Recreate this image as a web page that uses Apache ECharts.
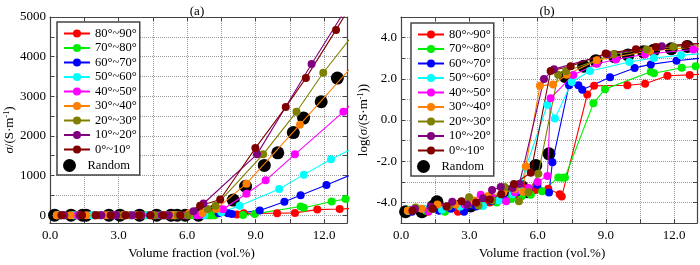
<!DOCTYPE html>
<html>
<head>
<meta charset="utf-8">
<script src="https://cdn.jsdelivr.net/npm/echarts@6/dist/echarts.min.js"></script>
<style>
html, body { margin: 0; padding: 0; background: #fff; }
#chart { width: 700px; height: 265px; }
</style>
</head>
<body>
<div id="chart"></div>
<script>
// series names / colours
const names = ['80°~90°', '70°~80°', '60°~70°', '50°~60°', '40°~50°', '30°~40°', '20°~30°', '10°~20°', '0°~10°'];
const colors = ['#ff0000', '#00ee00', '#0000ff', '#00ffff', '#ff00ff', '#ff8000', '#808000', '#800080', '#800000'];

// volume fraction (vol.%), log(sigma) for panel (b), sigma (S/m) for panel (a)
const x_80_90 = [0.3, 1.2, 1.9, 2.5, 3.2, 3.9, 4.5, 5.0, 5.33, 5.9, 6.47, 6.97, 7.06, 8.18, 8.48, 9.94, 10.72, 11.7, 12.68, 13.6];
const log_80_90 = [-4.4, -4.45, -4.3, -4.45, -4.1, -4.0, -3.85, -3.6, -3.25, -3.4, -3.33, -3.6, -3.71, 1.24, 1.66, 1.69, 1.76, 2.15, 2.19, 2.25];
const sig_80_90 = [0, 0, 0, 0, 0, 0, 0, 0, 0, 0, 0, 0, 0, 17, 46, 49, 57, 141, 155, 178];

const x_70_80 = [0.4, 1.1, 1.93, 2.7, 3.5, 4.2, 4.84, 5.3, 5.7, 6.2, 6.91, 7.08, 7.2, 8.45, 8.96, 10.97, 11.11, 12.33, 12.94, 13.6];
const log_70_80 = [-4.35, -4.4, -4.45, -4.3, -4.15, -4.0, -3.83, -3.7, -3.63, -3.45, -2.79, -2.8, -2.79, 0.81, 1.5, 2.34, 2.27, 2.54, 2.61, 2.68];
const sig_70_80 = [0, 0, 0, 0, 0, 0, 0, 0, 0, 0, 0, 0, 0, 6, 32, 219, 186, 347, 407, 480];

const x_60_70 = [0.48, 1.67, 2.2, 2.77, 3.3, 3.98, 4.5, 5.1, 5.6, 5.99, 6.5, 6.65, 7.38, 7.79, 7.96, 9.18, 10.26, 10.97, 12.1, 13.6];
const log_60_70 = [-4.45, -4.4, -4.3, -4.45, -4.2, -3.94, -3.8, -3.5, -3.35, -3.14, -3.52, -2.05, 1.69, 1.69, 1.47, 2.08, 2.53, 2.70, 2.88, 3.05];
const sig_60_70 = [0, 0, 0, 0, 0, 0, 0, 0, 0, 0, 0, 0, 49, 49, 30, 120, 339, 501, 759, 1120];

const x_50_60 = [0.3, 1.0, 1.8, 2.6, 3.6, 4.3, 4.9, 5.2, 5.48, 6.43, 6.76, 7.5, 8.3, 10.03, 11.11, 12.3, 13.6];
const log_50_60 = [-4.4, -4.3, -4.35, -4.2, -4.17, -3.9, -3.6, -3.4, -2.3, 0.74, 0.07, 1.85, 2.38, 2.82, 3.01, 3.15, 3.25];
const sig_50_60 = [0, 0, 0, 0, 0, 0, 0, 0, 0, 5, 1, 71, 240, 660, 1023, 1413, 1780];

const x_40_50 = [0.5, 1.2, 2.0, 2.8, 3.5, 4.0, 4.62, 5.0, 5.6, 6.0, 6.43, 6.57, 7.57, 8.6, 9.44, 10.72, 12.84, 13.6];
const log_40_50 = [-4.35, -4.43, -4.2, -4.1, -3.63, -3.8, -3.94, -3.5, -3.3, -3.0, -2.71, 1.06, 2.19, 2.73, 2.94, 3.19, 3.42, 3.5];
const sig_40_50 = [0, 0, 0, 0, 0, 0, 0, 0, 0, 0, 0, 11, 150, 539, 880, 1534, 2608, 3050];

const x_30_40 = [0.3, 0.9, 1.6, 2.4, 3.2, 3.8, 4.5, 5.0, 5.36, 5.48, 6.1, 6.68, 7.28, 8.6, 10.94, 13.6];
const log_30_40 = [-4.4, -4.3, -4.1, -4.1, -3.9, -3.7, -3.5, -3.35, -3.48, -2.25, 1.66, 1.73, 2.2, 2.9, 3.36, 3.6];
const sig_30_40 = [0, 0, 0, 0, 0, 0, 0, 0, 0, 0, 46, 54, 158, 795, 2282, 4000];

const x_20_30 = [0.64, 1.3, 2.1, 2.99, 3.4, 4.0, 4.55, 5.18, 5.6, 6.03, 6.9, 7.25, 9.33, 10.79, 11.96, 13.6];
const log_20_30 = [-4.24, -4.3, -4.2, -3.74, -4.14, -3.9, -3.25, -3.94, -3.5, -2.61, 2.2, 2.37, 3.19, 3.42, 3.56, 3.68];
const sig_20_30 = [0, 0, 0, 0, 0, 0, 0, 0, 0, 0, 157, 236, 1534, 2608, 3594, 4800];

const x_10_20 = [0.61, 1.3, 2.25, 2.9, 3.6, 4.0, 4.38, 4.9, 5.2, 6.28, 6.72, 9.06, 11.45, 13.6];
const log_10_20 = [-4.32, -4.2, -3.97, -4.1, -3.8, -3.4, -3.25, -3.3, -3.1, 1.99, 2.47, 3.19, 3.58, 3.76];
const sig_10_20 = [0, 0, 0, 0, 0, 0, 0, 0, 0, 98, 295, 1534, 3816, 5800];

const x_0_10 = [0.5, 1.4, 2.0, 2.66, 3.3, 3.9, 4.4, 4.96, 5.7, 6.57, 7.45, 8.99, 10.32, 11.2, 12.52, 13.6];
const log_0_10 = [-4.4, -4.3, -4.2, -3.94, -4.0, -3.85, -3.6, -3.1, -2.56, 2.38, 2.61, 3.23, 3.44, 3.54, 3.67, 3.76];
const sig_0_10 = [0, 0, 0, 0, 0, 0, 0, 0, 0, 236, 396, 1692, 2728, 3458, 4675, 5700];

const x_random = [0.2, 0.92, 1.43, 1.58, 2.58, 3.06, 3.92, 4.67, 5.3, 5.57, 5.92, 6.5, 7.22, 8.02, 8.56, 9.38, 9.97, 10.65, 11.1, 11.87, 12.58];
const log_random = [-4.45, -4.45, -4.17, -3.97, -4.17, -4.17, -3.83, -3.48, -3.22, -3.48, -2.2, -1.64, 2.11, 2.61, 2.88, 3.07, 3.16, 3.31, 3.39, 3.46, 3.57];
const sig_random = [0, 0, 0, 0, 0, 0, 0, 0, 0, 0, 0, 0, 117, 380, 730, 1255, 1573, 2083, 2449, 2862, 3458];

const xs = [x_80_90, x_70_80, x_60_70, x_50_60, x_40_50, x_30_40, x_20_30, x_10_20, x_0_10];
const logs = [log_80_90, log_70_80, log_60_70, log_50_60, log_40_50, log_30_40, log_20_30, log_10_20, log_0_10];
const sigs = [sig_80_90, sig_70_80, sig_60_70, sig_50_60, sig_40_50, sig_30_40, sig_20_30, sig_10_20, sig_0_10];

const fontFamily = "'Liberation Serif', 'Times New Roman', serif";
const frameColor = '#444';

function pairs (x, y) {
  return x.map((v, i) => [v, y[i]]);
}

function xAxisFor (grid, pos, withText) {
  return {
    gridIndex: grid, type: 'value', position: pos,
    min: 0, max: 13, interval: 1.5,
    axisLine: { show: true, onZero: false, lineStyle: { color: frameColor, width: 1.2 } },
    axisTick: { show: true, inside: true, length: 4, lineStyle: { color: frameColor } },
    axisLabel: {
      show: withText, margin: 6, color: '#000', fontFamily: fontFamily, fontSize: 13,
      formatter: v => (Math.abs(v / 3 - Math.round(v / 3)) < 1e-6 && v <= 12) ? v.toFixed(1) : ''
    },
    splitLine: { show: withText, lineStyle: { type: 'dotted', color: '#999', width: 1 } },
    name: withText ? 'Volume fraction (vol.%)' : '',
    nameLocation: 'middle', nameGap: 16,
    nameTextStyle: { color: '#000', fontFamily: fontFamily, fontSize: 13, padding: [0, 14, 0, 0] }
  }
}

function yAxisFor (grid, pos, withText, panel) {
  const ax = {
    gridIndex: grid, type: 'value', position: pos,
    axisLine: { show: true, onZero: false, lineStyle: { color: frameColor, width: 1.2 } },
    axisTick: { show: true, inside: true, length: 4, lineStyle: { color: frameColor } },
    splitLine: { show: withText, lineStyle: { type: 'dotted', color: '#999', width: 1 } },
    axisLabel: { show: withText, margin: 4, color: '#000', fontFamily: fontFamily, fontSize: 13 },
    nameLocation: 'middle',
    nameTextStyle: {
      color: '#000', fontFamily: fontFamily, fontSize: 13,
      rich: {
        n: { fontFamily: fontFamily, fontSize: 13, color: '#000' },
        i: { fontFamily: fontFamily, fontSize: 13, color: '#000', fontStyle: 'italic' },
        s: { fontFamily: fontFamily, fontSize: 8, color: '#000', verticalAlign: 'top' }
      }
    }
  }
  if (panel === 0) {
    ax.min = -200
    ax.max = 5000
    ax.minInterval = 500
    ax.maxInterval = 500
    ax.axisLabel.formatter = v => (v >= 0 && v % 1000 === 0) ? String(v) : ''
    if (withText) {
      ax.name = '{i|σ}{n|/(S·m}{s|-1}{n|)}'
      ax.nameGap = 33
      ax.nameTextStyle.padding = [0, 20, 0, 0]
    }
  } else {
    ax.min = -5
    ax.max = 5
    ax.interval = 1
    ax.axisLabel.formatter = v => (v % 2 === 0 && Math.abs(v) < 5) ? v.toFixed(1) : ''
    if (withText) {
      ax.name = '{n|log(}{i|σ}{n|/(S·m}{s|-1}{n|))}'
      ax.nameGap = 31
    }
  }
  return ax
}

function legendsFor (left, top) {
  return [
    {
      orient: 'vertical', left: left, top: top,
      data: names,
      itemWidth: 26, itemHeight: 10, itemGap: 1.5,
      padding: [5, 3, 19, 6],
      borderColor: frameColor, borderWidth: 1.5, backgroundColor: '#fff',
      selectedMode: false,
      textStyle: { fontFamily: fontFamily, fontSize: 12.5, lineHeight: 13, color: '#000' }
    },
    {
      orient: 'vertical', left: left + 6, top: top + 137,
      data: [{ name: 'Random', itemStyle: { color: '#000', opacity: 1 } }],
      itemWidth: 26, itemHeight: 13, padding: 0,
      selectedMode: false,
      textStyle: { fontFamily: fontFamily, fontSize: 12.5, lineHeight: 13, color: '#000' }
    }
  ]
}

const series = [];
[0, 1].forEach(panel => {
  names.forEach((name, k) => {
    series.push({
      type: 'line', name: name,
      xAxisIndex: panel * 2, yAxisIndex: panel * 2,
      data: pairs(xs[k], panel === 0 ? sigs[k] : logs[k]),
      symbol: 'circle', symbolSize: 8, showSymbol: true, showAllSymbol: true,
      lineStyle: { color: colors[k], width: 1.1 },
      itemStyle: { color: colors[k] },
      emphasis: { disabled: true },
      clip: true
    })
  })
  series.push({
    type: 'scatter', name: 'Random',
    xAxisIndex: panel * 2, yAxisIndex: panel * 2,
    data: pairs(x_random, panel === 0 ? sig_random : log_random),
    symbol: 'circle', symbolSize: 13,
    itemStyle: { color: '#000', opacity: 1 },
    emphasis: { disabled: true },
    clip: true
  })
})

const chart = echarts.init(document.getElementById('chart'));
chart.setOption({
  animation: false,
  backgroundColor: '#fff',
  textStyle: { fontFamily: fontFamily },
  title: [
    { text: '(a)', left: 192, top: 0, textAlign: 'center', textStyle: { fontFamily: fontFamily, fontSize: 13, fontWeight: 'normal', color: '#000' } },
    { text: '(b)', left: 542, top: 0, textAlign: 'center', textStyle: { fontFamily: fontFamily, fontSize: 13, fontWeight: 'normal', color: '#000' } }
  ],
  grid: [
    { left: 50, top: 17, width: 297, height: 218 },
    { left: 401, top: 17, width: 297, height: 218 }
  ],
  xAxis: [xAxisFor(0, 'bottom', true), xAxisFor(0, 'top', false), xAxisFor(1, 'bottom', true), xAxisFor(1, 'top', false)],
  yAxis: [yAxisFor(0, 'left', true, 0), yAxisFor(0, 'right', false, 0), yAxisFor(1, 'left', true, 1), yAxisFor(1, 'right', false, 1)],
  legend: legendsFor(57, 22).concat(legendsFor(411, 23)),
  series: series
});
</script>
</body>
</html>
